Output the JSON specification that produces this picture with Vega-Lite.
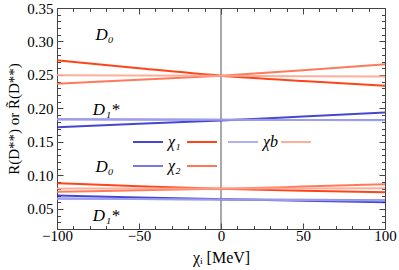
{
  "$schema": "https://vega.github.io/schema/vega-lite/v6.json",
  "width": 328,
  "height": 221,
  "autosize": {"type": "none"},
  "padding": {"left": 57, "top": 8, "right": 14, "bottom": 41},
  "background": "white",
  "config": {
    "view": {"stroke": "#444444", "strokeWidth": 1},
    "font": "Liberation Serif",
    "axis": {
      "domain": false,
      "grid": false,
      "tickColor": "#444444",
      "tickWidth": 1,
      "labelFont": "Liberation Serif",
      "labelFontSize": 14,
      "labelColor": "#000000",
      "labelOverlap": false,
      "labelFlush": false,
      "titleFont": "Liberation Serif",
      "titleFontWeight": "normal",
      "titleColor": "#000000"
    },
    "legend": {
      "labelFont": "Liberation Serif",
      "labelFontSize": 16,
      "labelFontStyle": "italic",
      "labelColor": "#000000",
      "symbolType": "stroke",
      "symbolStrokeWidth": 2,
      "symbolSize": 900,
      "title": null
    }
  },
  "datasets": {
    "curves": [
      {"m": "D0", "r": "a", "c": "χ₁", "x": -100, "y": 0.272},
      {"m": "D0", "r": "a", "c": "χ₁", "x": -50, "y": 0.26},
      {"m": "D0", "r": "a", "c": "χ₁", "x": 0, "y": 0.249},
      {"m": "D0", "r": "a", "c": "χ₁", "x": 50, "y": 0.241},
      {"m": "D0", "r": "a", "c": "χ₁", "x": 100, "y": 0.234},
      {"m": "D0", "r": "a", "c": "χ₂", "x": -100, "y": 0.237},
      {"m": "D0", "r": "a", "c": "χ₂", "x": -50, "y": 0.243},
      {"m": "D0", "r": "a", "c": "χ₂", "x": 0, "y": 0.249},
      {"m": "D0", "r": "a", "c": "χ₂", "x": 50, "y": 0.257},
      {"m": "D0", "r": "a", "c": "χ₂", "x": 100, "y": 0.266},
      {"m": "D0", "r": "a", "c": "χb", "x": -100, "y": 0.2495},
      {"m": "D0", "r": "a", "c": "χb", "x": 0, "y": 0.2487},
      {"m": "D0", "r": "a", "c": "χb", "x": 100, "y": 0.2477},
      {"m": "D1", "r": "a", "c": "χ₁", "x": -100, "y": 0.172},
      {"m": "D1", "r": "a", "c": "χ₁", "x": -50, "y": 0.177},
      {"m": "D1", "r": "a", "c": "χ₁", "x": 0, "y": 0.182},
      {"m": "D1", "r": "a", "c": "χ₁", "x": 50, "y": 0.188},
      {"m": "D1", "r": "a", "c": "χ₁", "x": 100, "y": 0.194},
      {"m": "D1", "r": "a", "c": "χ₂", "x": -100, "y": 0.1838},
      {"m": "D1", "r": "a", "c": "χ₂", "x": 0, "y": 0.1832},
      {"m": "D1", "r": "a", "c": "χ₂", "x": 100, "y": 0.1826},
      {"m": "D1", "r": "a", "c": "χb", "x": -100, "y": 0.1836},
      {"m": "D1", "r": "a", "c": "χb", "x": 0, "y": 0.1831},
      {"m": "D1", "r": "a", "c": "χb", "x": 100, "y": 0.1824},
      {"m": "D0", "r": "b", "c": "χ₁", "x": -100, "y": 0.0885},
      {"m": "D0", "r": "b", "c": "χ₁", "x": -50, "y": 0.084},
      {"m": "D0", "r": "b", "c": "χ₁", "x": 0, "y": 0.08},
      {"m": "D0", "r": "b", "c": "χ₁", "x": 50, "y": 0.0772},
      {"m": "D0", "r": "b", "c": "χ₁", "x": 100, "y": 0.075},
      {"m": "D0", "r": "b", "c": "χ₂", "x": -100, "y": 0.0755},
      {"m": "D0", "r": "b", "c": "χ₂", "x": -50, "y": 0.0778},
      {"m": "D0", "r": "b", "c": "χ₂", "x": 0, "y": 0.08},
      {"m": "D0", "r": "b", "c": "χ₂", "x": 50, "y": 0.0833},
      {"m": "D0", "r": "b", "c": "χ₂", "x": 100, "y": 0.087},
      {"m": "D0", "r": "b", "c": "χb", "x": -100, "y": 0.0805},
      {"m": "D0", "r": "b", "c": "χb", "x": 0, "y": 0.0805},
      {"m": "D0", "r": "b", "c": "χb", "x": 100, "y": 0.081},
      {"m": "D1", "r": "b", "c": "χ₁", "x": -100, "y": 0.07},
      {"m": "D1", "r": "b", "c": "χ₁", "x": -50, "y": 0.067},
      {"m": "D1", "r": "b", "c": "χ₁", "x": 0, "y": 0.0645},
      {"m": "D1", "r": "b", "c": "χ₁", "x": 50, "y": 0.062},
      {"m": "D1", "r": "b", "c": "χ₁", "x": 100, "y": 0.06},
      {"m": "D1", "r": "b", "c": "χ₂", "x": -100, "y": 0.0655},
      {"m": "D1", "r": "b", "c": "χ₂", "x": 0, "y": 0.0642},
      {"m": "D1", "r": "b", "c": "χ₂", "x": 100, "y": 0.063},
      {"m": "D1", "r": "b", "c": "χb", "x": -100, "y": 0.0652},
      {"m": "D1", "r": "b", "c": "χb", "x": 0, "y": 0.064},
      {"m": "D1", "r": "b", "c": "χb", "x": 100, "y": 0.0625}
    ],
    "notes": [
      {"label": "D₀", "x": -71, "y": 0.31},
      {"label": "D₁*", "x": -70, "y": 0.198},
      {"label": "D₀", "x": -71, "y": 0.1125},
      {"label": "D₁*", "x": -70, "y": 0.0395}
    ],
    "zero": [{"x": 0}]
  },
  "layer": [
    {
      "data": {"name": "zero"},
      "mark": {"type": "rule", "color": "#555555", "strokeWidth": 1},
      "encoding": {
        "x": {"field": "x", "type": "quantitative", "scale": {"domain": [-100, 100], "nice": false}, "axis": null}
      }
    },
    {
      "data": {"name": "curves"},
      "transform": [{"filter": "datum.m == 'D1'"}],
      "mark": {"type": "line", "strokeWidth": 2, "interpolate": "monotone", "opacity": 0.85},
      "encoding": {
        "x": {
          "field": "x", "type": "quantitative",
          "scale": {"domain": [-100, 100], "nice": false},
          "axis": {
            "orient": "bottom",
            "values": [-100, -90, -80, -70, -60, -50, -40, -30, -20, -10, 0, 10, 20, 30, 40, 50, 60, 70, 80, 90, 100],
            "tickSize": {"condition": {"test": "datum.value % 50 == 0", "value": -6}, "value": -3.5},
            "labelExpr": "datum.value % 50 == 0 ? (datum.value < 0 ? '−' + abs(datum.value) : '' + datum.value) : ''",
            "labelFont": "Liberation Serif",
            "labelFontSize": 15,
            "labelPadding": 5,
            "title": "χᵢ [MeV]",
            "titleFont": "Liberation Serif",
            "titleFontSize": 16,
            "titlePadding": 4
          }
        },
        "y": {
          "field": "y", "type": "quantitative",
          "scale": {"domain": [0.02, 0.35], "nice": false, "zero": false},
          "axis": {
            "orient": "left",
            "values": [0.02, 0.03, 0.04, 0.05, 0.06, 0.07, 0.08, 0.09, 0.1, 0.11, 0.12, 0.13, 0.14, 0.15, 0.16, 0.17, 0.18, 0.19, 0.2, 0.21, 0.22, 0.23, 0.24, 0.25, 0.26, 0.27, 0.28, 0.29, 0.3, 0.31, 0.32, 0.33, 0.34, 0.35],
            "tickSize": {"condition": {"test": "round(datum.value * 100) % 5 == 0", "value": -6}, "value": -3.5},
            "labelExpr": "round(datum.value * 100) % 5 == 0 ? format(datum.value, '.2f') : ''",
            "labelFont": "Liberation Serif",
            "labelFontSize": 15,
            "labelPadding": 10,
            "title": "R(D**) or R̃(D**)",
            "titleFont": "Liberation Serif",
            "titleFontSize": 15,
            "titlePadding": 5
          }
        },
        "color": {
          "field": "c", "type": "nominal",
          "scale": {"domain": ["χ₁", "χ₂", "χb"], "range": ["#2626c8", "#6262e0", "#a4a4f0"]},
          "legend": {
            "orient": "none", "legendX": 75, "legendY": 118, "columns": 2,
            "columnPadding": 43, "rowPadding": -3, "labelOffset": 4
          }
        },
        "detail": {"field": "r"}
      }
    },
    {
      "data": {"name": "curves"},
      "transform": [{"filter": "datum.m == 'D0'"}],
      "mark": {"type": "line", "strokeWidth": 2, "interpolate": "monotone", "opacity": 0.9},
      "encoding": {
        "x": {
          "field": "x", "type": "quantitative",
          "scale": {"domain": [-100, 100], "nice": false},
          "axis": {
            "orient": "top",
            "values": [-100, -90, -80, -70, -60, -50, -40, -30, -20, -10, 0, 10, 20, 30, 40, 50, 60, 70, 80, 90, 100],
            "tickSize": {"condition": {"test": "datum.value % 50 == 0", "value": -6}, "value": -3.5},
            "labels": false,
            "title": null
          }
        },
        "y": {
          "field": "y", "type": "quantitative",
          "scale": {"domain": [0.02, 0.35], "nice": false, "zero": false},
          "axis": {
            "orient": "right",
            "values": [0.02, 0.03, 0.04, 0.05, 0.06, 0.07, 0.08, 0.09, 0.1, 0.11, 0.12, 0.13, 0.14, 0.15, 0.16, 0.17, 0.18, 0.19, 0.2, 0.21, 0.22, 0.23, 0.24, 0.25, 0.26, 0.27, 0.28, 0.29, 0.3, 0.31, 0.32, 0.33, 0.34, 0.35],
            "tickSize": {"condition": {"test": "round(datum.value * 100) % 5 == 0", "value": -6}, "value": -3.5},
            "labels": false,
            "title": null
          }
        },
        "color": {
          "field": "c", "type": "nominal",
          "scale": {"domain": ["χ₁", "χ₂", "χb"], "range": ["#ff3000", "#ff6a48", "#ffa590"]},
          "legend": {
            "orient": "none", "legendX": 129, "legendY": 118, "columns": 2,
            "columnPadding": 56, "rowPadding": -3, "labelOffset": 0,
            "labelExpr": "''"
          }
        },
        "detail": {"field": "r"}
      }
    },
    {
      "data": {"name": "notes"},
      "mark": {"type": "text", "font": "Liberation Serif", "fontSize": 17, "fontStyle": "italic", "color": "#000000"},
      "encoding": {
        "x": {"field": "x", "type": "quantitative", "scale": {"domain": [-100, 100], "nice": false}, "axis": null},
        "y": {"field": "y", "type": "quantitative", "scale": {"domain": [0.02, 0.35], "nice": false, "zero": false}, "axis": null},
        "text": {"field": "label"}
      }
    }
  ],
  "resolve": {
    "scale": {"color": "independent"},
    "axis": {"x": "independent", "y": "independent"}
  }
}
